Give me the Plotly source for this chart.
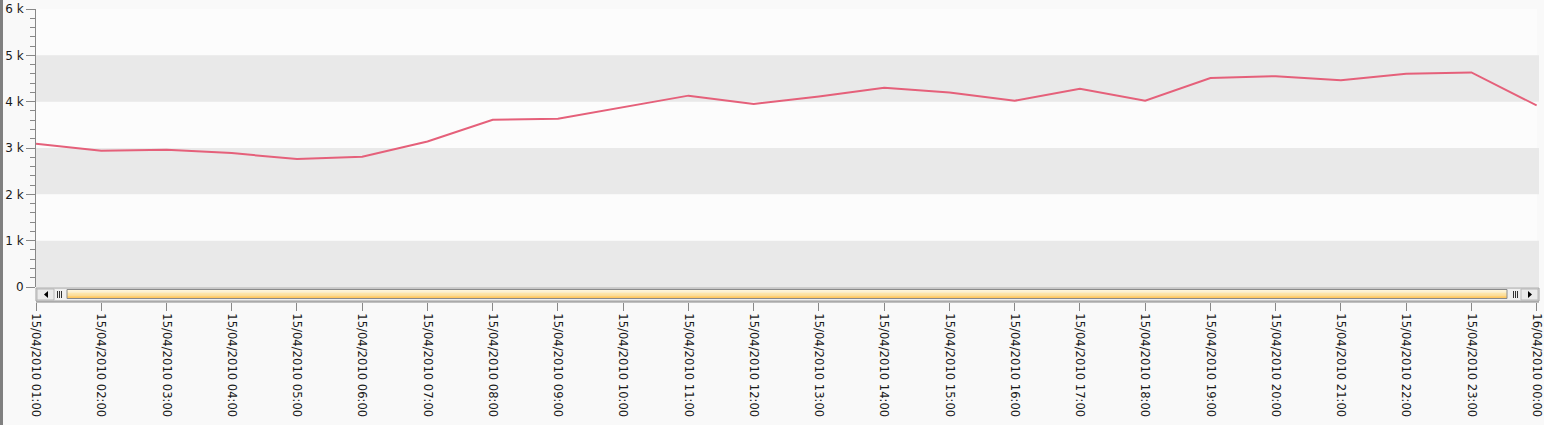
import plotly.graph_objects as go

# ---- data ----
hours = ["2010-04-15 01:00", "2010-04-15 02:00", "2010-04-15 03:00", "2010-04-15 04:00",
         "2010-04-15 05:00", "2010-04-15 06:00", "2010-04-15 07:00", "2010-04-15 08:00",
         "2010-04-15 09:00", "2010-04-15 10:00", "2010-04-15 11:00", "2010-04-15 12:00",
         "2010-04-15 13:00", "2010-04-15 14:00", "2010-04-15 15:00", "2010-04-15 16:00",
         "2010-04-15 17:00", "2010-04-15 18:00", "2010-04-15 19:00", "2010-04-15 20:00",
         "2010-04-15 21:00", "2010-04-15 22:00", "2010-04-15 23:00", "2010-04-16 00:00"]
values = [3090, 2940, 2960, 2890, 2760, 2810, 3140, 3610, 3630, 3880, 4130, 3950,
          4110, 4300, 4200, 4020, 4280, 4020, 4510, 4550, 4460, 4600, 4630, 3920]
y_tickvals = [0, 1000, 2000, 3000, 4000, 5000, 6000]
y_ticktext = ["0", "1 k", "2 k", "3 k", "4 k", "5 k", "6 k"]
band_ranges = [(0, 1000), (2000, 3000), (4000, 5000)]

# ---- layout geometry (pixels) ----
W, H = 1544, 425
L, R, T, B = 36, 7, 9, 123
PW = W - L - R
PH = H - T - B
Y0PIX = 287  # pixel row of value 0


def px(xp):
    return (xp - L) / PW


def py(yp):
    return (H - B - yp) / PH


fig = go.Figure()
fig.add_trace(go.Scatter(x=hours, y=values, mode="lines",
                         line=dict(color="#e5607a", width=2), hoverinfo="x+y"))

shapes = []
# alternating bands
for lo, hi in band_ranges:
    shapes.append(dict(type="rect", xref="paper", yref="y", x0=0, x1=px(1539), y0=lo, y1=hi,
                       fillcolor="#e9e9e9", line=dict(width=0), layer="below"))
# scrollbar track
shapes.append(dict(type="rect", xref="paper", yref="paper", x0=px(36), x1=px(1539),
                   y0=py(301), y1=py(288), fillcolor="#f0f0f0", line=dict(color="#a0a0a0", width=1)))
# buttons
for bx0, bx1 in [(37, 54), (1521, 1538)]:
    shapes.append(dict(type="rect", xref="paper", yref="paper", x0=px(bx0), x1=px(bx1),
                       y0=py(300), y1=py(289), fillcolor="#eaeaea", line=dict(color="#b8b8b8", width=1)))
# arrows
shapes.append(dict(type="path", xref="paper", yref="paper",
                   path=f"M {px(44)} {py(294.5)} L {px(48)} {py(291)} L {px(48)} {py(298)} Z",
                   fillcolor="#000000", line=dict(width=0)))
shapes.append(dict(type="path", xref="paper", yref="paper",
                   path=f"M {px(1532)} {py(294.5)} L {px(1528)} {py(291)} L {px(1528)} {py(298)} Z",
                   fillcolor="#000000", line=dict(width=0)))
# grips
for gx in [57, 59, 61, 1513, 1515, 1517]:
    shapes.append(dict(type="rect", xref="paper", yref="paper", x0=px(gx), x1=px(gx + 1),
                       y0=py(298), y1=py(291), fillcolor="#333333", line=dict(width=0)))
# thumb with simulated gradient
grad = ["#fff6d8", "#ffefc4", "#ffe6a8", "#ffdc8c", "#ffd175", "#ffc862"]
for i, c in enumerate(grad):
    shapes.append(dict(type="rect", xref="paper", yref="paper", x0=px(67), x1=px(1507),
                       y0=py(290 + (i + 1) * 1.4), y1=py(290 + i * 1.4), fillcolor=c, line=dict(width=0)))
shapes.append(dict(type="rect", xref="paper", yref="paper", x0=px(67), x1=px(1507),
                   y0=py(298.5), y1=py(289.5), fillcolor="rgba(0,0,0,0)",
                   line=dict(color="#8a8a8a", width=1)))
# x axis line under scrollbar
shapes.append(dict(type="line", xref="paper", yref="paper", x0=px(36), x1=px(1539),
                   y0=py(302), y1=py(302), line=dict(color="#888888", width=1)))
# left window border
shapes.append(dict(type="rect", xref="paper", yref="paper", x0=px(0), x1=px(3),
                   y0=py(425), y1=py(0), fillcolor="#808080", line=dict(width=0)))

fig.update_layout(
    width=W, height=H,
    margin=dict(l=L, r=R, t=T, b=B, pad=0, autoexpand=False),
    paper_bgcolor="#f9f9f9",
    plot_bgcolor="#fcfcfc",
    showlegend=False,
    shapes=shapes,
    font=dict(family="DejaVu Sans", size=11, color="#1a1a1a"),
    xaxis=dict(
        type="date",
        range=["2010-04-15 01:00", "2010-04-16 00:00:20"],
        dtick=3600000,
        tick0="2010-04-15 01:00",
        tickformat="%d/%m/%Y %H:%M",
        tickangle=90,
        ticks="outside", ticklen=8, tickcolor="#888888", tickwidth=1,
        showgrid=False, zeroline=False, showline=False,
        anchor="free", position=0,
        automargin=False,
        tickfont=dict(family="DejaVu Sans", size=11.6, color="#1a1a1a"),
    ),
    yaxis=dict(
        range=[0, 6000],
        domain=[py(Y0PIX), 1],
        tickvals=y_tickvals, ticktext=y_ticktext,
        ticks="outside", ticklen=9, tickcolor="#888888", tickwidth=1,
        minor=dict(dtick=200, ticks="outside", ticklen=5, tickcolor="#888888", tickwidth=1),
        showgrid=False, zeroline=False,
        showline=True, linecolor="#888888", linewidth=1,
        automargin=False,
        tickfont=dict(family="DejaVu Sans", size=12, color="#1a1a1a"),
    ),
)

fig.write_html("out.html", config={"displayModeBar": False},
               post_script="document.body.style.margin='0';document.body.style.background='#f9f9f9';")
